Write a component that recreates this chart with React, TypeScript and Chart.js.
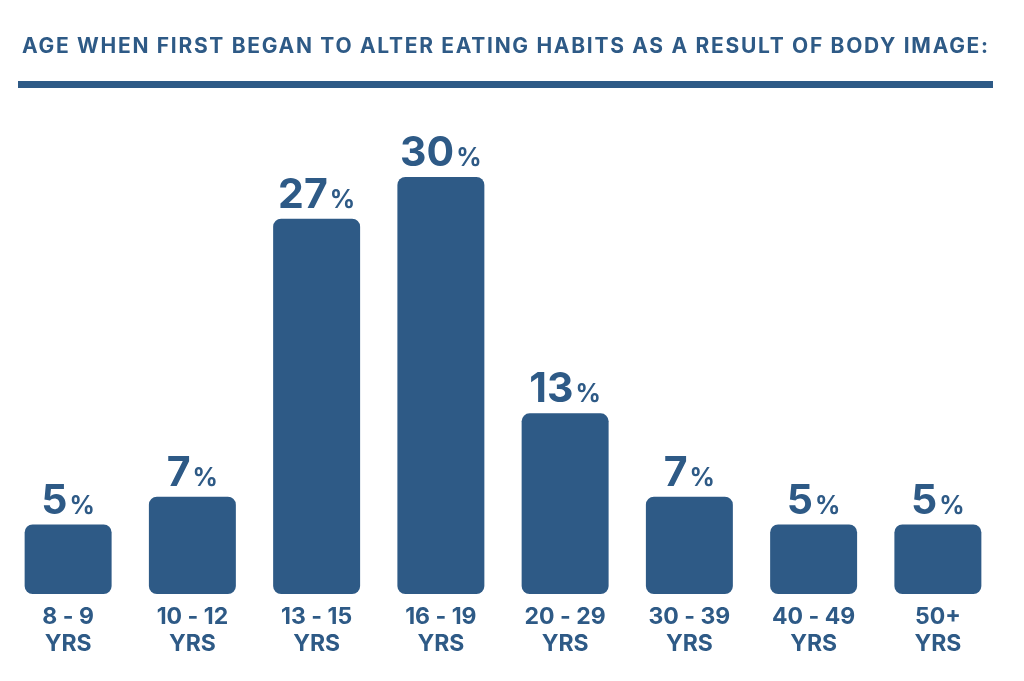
import React, { useEffect, useRef } from "react";
import { Chart, registerables } from "chart.js";

Chart.register(...registerables);

const TITLE = "AGE WHEN FIRST BEGAN TO ALTER EATING HABITS AS A RESULT OF BODY IMAGE:";
const categories: string[][] = [
  ["8 - 9", "YRS"],
  ["10 - 12", "YRS"],
  ["13 - 15", "YRS"],
  ["16 - 19", "YRS"],
  ["20 - 29", "YRS"],
  ["30 - 39", "YRS"],
  ["40 - 49", "YRS"],
  ["50+", "YRS"],
];
const values: number[] = [5, 7, 27, 30, 13, 7, 5, 5];
const valueSuffix = "%";

const BLUE = "#2e5a86";
const FONT = "Inter";

const decorPlugin = {
  id: "decor",
  afterDraw(chart: any) {
    const ctx: any = chart.ctx;
    ctx.save();
    ctx.fillStyle = BLUE;
    ctx.textAlign = "left";
    ctx.textBaseline = "alphabetic";
    ctx.font = `bold 21px ${FONT}`;
    ctx.letterSpacing = "1.7px";
    ctx.fillText(TITLE, 22, 53);
    ctx.letterSpacing = "0px";
    ctx.fillRect(18, 81, 975, 7);

    const meta = chart.getDatasetMeta(0);
    meta.data.forEach((bar: any, i: number) => {
      const num = String(values[i]);
      const big = `bold 41px ${FONT}`;
      const small = `bold 25px ${FONT}`;
      ctx.font = big;
      const w1 = ctx.measureText(num).width;
      ctx.font = small;
      const w2 = ctx.measureText(valueSuffix).width;
      const gap = 2;
      const total = w1 + gap + w2;
      const x0 = bar.x - total / 2;
      const y = bar.y - 11;
      ctx.font = big;
      ctx.fillText(num, x0, y);
      ctx.font = small;
      ctx.fillText(valueSuffix, x0 + w1 + gap, y);
    });
    ctx.restore();
  },
};

export default function App() {
  const ref = useRef<HTMLCanvasElement>(null);
  useEffect(() => {
    if (!ref.current) return;
    const chart = new Chart(ref.current, {
      type: "bar",
      data: {
        labels: categories,
        datasets: [
          {
            data: values,
            backgroundColor: BLUE,
            borderRadius: 8,
            borderSkipped: false,
            categoryPercentage: 0.7,
            barPercentage: 1,
          },
        ],
      },
      options: {
        animation: false,
        responsive: false,
        layout: { padding: { top: 177, bottom: 13, left: 6, right: 24 } },
        plugins: {
          legend: { display: false },
          title: { display: false },
          tooltip: { enabled: false },
        },
        scales: {
          x: {
            grid: { display: false, drawTicks: false, tickLength: 0 },
            border: { display: false },
            ticks: {
              color: BLUE,
              padding: 10,
              autoSkip: false,
              maxRotation: 0,
              font: { family: FONT, size: 23, weight: "bold", lineHeight: "27px" },
            },
          },
          y: {
            display: false,
            min: 0,
            max: 30,
          },
        },
      },
      plugins: [decorPlugin],
    });
    return () => chart.destroy();
  }, []);
  return (
    <div style={{ position: "absolute", left: 0, top: 0, width: 1024, height: 681, background: "#fff" }}>
      <canvas ref={ref} width={1024} height={681} style={{ display: "block" }} />
    </div>
  );
}
